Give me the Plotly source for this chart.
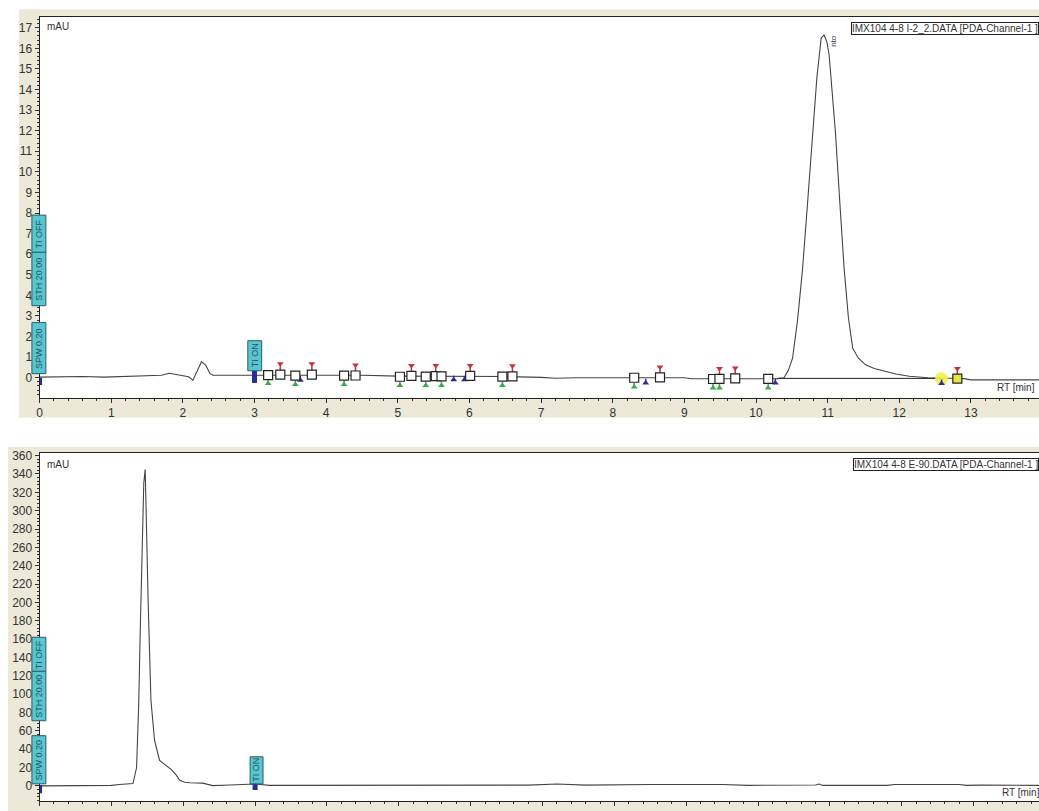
import plotly.graph_objects as go

# ---------------- data: upper chromatogram (IMX104 4-8 I-2_2) ----------------
top_rt = [0, 0.3, 0.6, 0.9, 1.2, 1.5, 1.7, 1.81, 1.95, 2.08, 2.14, 2.2, 2.26, 2.32, 2.38,
          2.42, 2.6, 3.0, 3.5, 4.0, 4.5, 5.0, 5.5, 6.0, 6.5, 7.0, 7.2, 7.5, 8.0, 8.5, 9.0,
          9.1, 9.5, 10.0, 10.3, 10.39, 10.45, 10.51, 10.58, 10.65, 10.72, 10.79, 10.85,
          10.91, 10.95, 10.99, 11.02, 11.06, 11.11, 11.17, 11.23, 11.29, 11.35, 11.43,
          11.53, 11.65, 11.81, 11.95, 12.14, 12.4, 12.7, 12.9, 13.0, 13.5, 13.95]
top_mau = [0.03, 0.04, 0.06, 0.03, 0.06, 0.07, 0.12, 0.22, 0.15, 0.05, -0.12, 0.3, 0.78, 0.6, 0.2,
           0.12, 0.12, 0.14, 0.15, 0.15, 0.12, 0.08, 0.08, 0.09, 0.06, 0.02, -0.02, 0.0, 0.0, 0.0, 0.0,
           -0.05, -0.06, -0.05, -0.04, 0.0, 0.35, 0.95, 2.8, 5.3, 8.5, 11.85, 14.6,
           16.5, 16.65, 16.3, 15.7, 14.0, 11.85, 8.5, 5.3, 2.9, 1.43, 0.95,
           0.63, 0.45, 0.3, 0.18, 0.07, 0.0, -0.02, -0.04, -0.1, -0.1, -0.1]
top_base_rt = [10.3, 12.6]
top_base_mau = [-0.03, -0.03]

# peak-boundary squares
sq_rt = [3.19, 3.36, 3.57, 3.80, 4.25, 4.41, 5.03, 5.19, 5.39, 5.53, 5.61, 6.01, 6.46, 6.60,
         8.30, 8.66, 9.40, 9.49, 9.71, 10.17]
sq_mau = [0.13, 0.15, 0.1, 0.15, 0.1, 0.11, 0.05, 0.09, 0.06, 0.08, 0.07, 0.09, 0.06, 0.07,
          0.0, 0.02, -0.06, -0.05, -0.03, -0.05]
sq_hl_rt = [12.81]
sq_hl_mau = [-0.04]
# red (start) pins, green (end) pins, blue triangles
red_rt = [3.36, 3.80, 4.41, 5.19, 5.53, 6.01, 6.60, 8.66, 9.49, 9.71, 12.81]
red_mau = [0.68, 0.68, 0.62, 0.6, 0.6, 0.6, 0.58, 0.52, 0.45, 0.47, 0.45]
green_rt = [3.19, 3.57, 4.25, 5.03, 5.39, 5.61, 6.46, 8.30, 9.40, 9.49, 10.17]
green_mau = [-0.28, -0.33, -0.33, -0.38, -0.38, -0.38, -0.38, -0.45, -0.5, -0.5, -0.5]
blue_rt = [3.64, 5.78, 5.93, 8.46, 10.27, 12.59]
blue_mau = [-0.12, -0.1, -0.1, -0.25, -0.25, -0.28]
yellow_rt = [12.59]
yellow_mau = [-0.05]
top_event_rt = [0.0, 3.0]
top_event_hi = [0.0, 0.35]
top_event_lo = [-0.35, -0.25]

# ---------------- data: lower chromatogram (IMX104 4-8 E-90) ----------------
bot_rt = [0, 0.5, 1.0, 1.11, 1.25, 1.3, 1.35, 1.38, 1.40, 1.43, 1.45, 1.47, 1.49, 1.51,
          1.55, 1.6, 1.67, 1.76, 1.83, 1.9, 1.95, 2.02, 2.09, 2.27, 2.35, 2.41, 2.65, 3.0,
          3.2, 4.0, 5.0, 6.0, 6.8, 7.2, 7.6, 8.5, 9.5, 9.86, 10.5, 10.8, 10.85, 10.9,
          11.8, 11.9, 12.8, 12.9, 13.1, 13.95]
bot_mau = [0, 0, 0.5, 1.5, 2, 2.5, 20, 90, 166, 261, 330, 345, 261, 203,
           93, 49.5, 27.7, 22, 18, 12, 6, 4, 3.3, 3, 1.5, 0.3, 1, 2,
           0.5, 0.5, 0.5, 0.5, 0.8, 2, 0.8, 1.5, 1.5, 0.5, 0.3, 1, 2, 0.5,
           0.5, 1.5, 1.5, 0.5, 0.8, 0.5]
bot_event_rt = [0.0, 3.0]
bot_event_hi = [1.0, 3.0]
bot_event_lo = [-8.0, -4.5]

top_yticks = list(range(0, 18))
bot_yticks = list(range(0, 361, 20))
x_ticks = list(range(0, 15))

titles = ["IMX104 4-8 I-2_2.DATA [PDA-Channel-1 ]", "IMX104 4-8 E-90.DATA [PDA-Channel-1 ]"]

# ---------------- styling constants ----------------
W, H = 1039, 823
REF_H = 811
SY, OY = 0.985, 2.4          # vertical compensation of the photographed page
BEIGE = "#ECE9D8"
CYAN = "#58C6D0"
TRACE = "#444444"
FONT = "Liberation Sans, Arial, sans-serif"


def px(v):
    return v / W


def py(v):
    return 1 - ((v - OY) / SY) / H


def event_xy(rts, his, los):
    xs, ys = [], []
    for r, h, l in zip(rts, his, los):
        xs += [r, r, None]
        ys += [h, l, None]
    return xs, ys


fig = go.Figure()

# upper panel traces
fig.add_trace(go.Scatter(x=top_rt, y=top_mau, mode="lines", line=dict(color=TRACE, width=1.1),
                         xaxis="x", yaxis="y", showlegend=False, hoverinfo="skip"))
fig.add_trace(go.Scatter(x=top_base_rt, y=top_base_mau, mode="lines", line=dict(color="#222", width=1),
                         xaxis="x", yaxis="y", showlegend=False, hoverinfo="skip"))
ex, ey = event_xy(top_event_rt, top_event_hi, top_event_lo)
fig.add_trace(go.Scatter(x=ex, y=ey, mode="lines", line=dict(color="#2b2b9c", width=5),
                         xaxis="x", yaxis="y", showlegend=False, hoverinfo="skip"))
fig.add_trace(go.Scatter(x=yellow_rt, y=yellow_mau, mode="markers",
                         marker=dict(symbol="circle", size=13, color="#eef04a", opacity=0.9),
                         xaxis="x", yaxis="y", showlegend=False, hoverinfo="skip"))
fig.add_trace(go.Scatter(x=red_rt, y=red_mau, mode="markers",
                         marker=dict(symbol="triangle-down", size=6, color="#c8333a"),
                         error_y=dict(type="constant", symmetric=False, value=0, valueminus=0.35,
                                      width=0, thickness=1.5, color="#c8333a"),
                         xaxis="x", yaxis="y", showlegend=False, hoverinfo="skip"))
fig.add_trace(go.Scatter(x=green_rt, y=green_mau, mode="markers",
                         marker=dict(symbol="triangle-up", size=6, color="#3caa48"),
                         error_y=dict(type="constant", symmetric=False, value=0.2, valueminus=0,
                                      width=0, thickness=1.5, color="#3caa48"),
                         xaxis="x", yaxis="y", showlegend=False, hoverinfo="skip"))
fig.add_trace(go.Scatter(x=blue_rt, y=blue_mau, mode="markers",
                         marker=dict(symbol="triangle-up", size=6, color="#2b2b9c"),
                         error_y=dict(type="constant", symmetric=False, value=0.2, valueminus=0,
                                      width=0, thickness=1.5, color="#2b2b9c"),
                         xaxis="x", yaxis="y", showlegend=False, hoverinfo="skip"))
fig.add_trace(go.Scatter(x=sq_rt, y=sq_mau, mode="markers",
                         marker=dict(symbol="square", size=9, color="white",
                                     line=dict(color="#222", width=1.2)),
                         xaxis="x", yaxis="y", showlegend=False, hoverinfo="skip"))
fig.add_trace(go.Scatter(x=sq_hl_rt, y=sq_hl_mau, mode="markers",
                         marker=dict(symbol="square", size=9, color="#e6e640",
                                     line=dict(color="#222", width=1.2)),
                         xaxis="x", yaxis="y", showlegend=False, hoverinfo="skip"))

# lower panel traces
fig.add_trace(go.Scatter(x=bot_rt, y=bot_mau, mode="lines", line=dict(color=TRACE, width=1.1),
                         xaxis="x2", yaxis="y2", showlegend=False, hoverinfo="skip"))
ex, ey = event_xy(bot_event_rt, bot_event_hi, bot_event_lo)
fig.add_trace(go.Scatter(x=ex, y=ey, mode="lines", line=dict(color="#2b2b9c", width=5),
                         xaxis="x2", yaxis="y2", showlegend=False, hoverinfo="skip"))

axis_common = dict(showgrid=False, zeroline=False, showline=True, linecolor="#222", linewidth=1,
                   ticks="outside", ticklen=4, tickcolor="#333",
                   tickfont=dict(family=FONT, size=12, color="#333"))

fig.update_layout(
    width=W, height=H, autosize=False,
    margin=dict(l=0, r=0, t=0, b=0),
    paper_bgcolor="white", plot_bgcolor="white",
    font=dict(family=FONT, color="#333"),
    xaxis=dict(domain=[px(36.7), 1], range=[0, 13.95], anchor="y", tickvals=x_ticks,
               mirror=True, minor=dict(dtick=0.2, ticks="outside", ticklen=2, tickcolor="#333"),
               **axis_common),
    yaxis=dict(domain=[py(395), py(15)], range=[-0.97, 17.54], anchor="x", tickvals=top_yticks,
               minor=dict(dtick=0.2, ticks="outside", ticklen=2, tickcolor="#333"),
               **axis_common),
    xaxis2=dict(domain=[px(36.7), 1], range=[0, 13.91], anchor="y2", tickvals=x_ticks,
                mirror=True, minor=dict(dtick=0.2, ticks="outside", ticklen=2, tickcolor="#333"),
                **axis_common),
    yaxis2=dict(domain=[py(797), py(450)], range=[-16.4, 363], anchor="x2", tickvals=bot_yticks,
                minor=dict(dtick=4, ticks="outside", ticklen=2, tickcolor="#333"),
                **axis_common),
)

shapes = []
# beige frame strips
for (x0, x1, y0, y1) in [(16, 36.7, 8, 415), (16, W, 8, 15), (36.7, W, 395, 415),
                         (5, 36.7, 444, REF_H + 12), (5, W, 444, 450), (36.7, W, 797, REF_H + 12)]:
    shapes.append(dict(type="rect", xref="paper", yref="paper", x0=px(x0), x1=px(x1),
                       y0=py(y1), y1=py(y0), fillcolor=BEIGE, line=dict(width=0), layer="below"))

annotations = []


def cyan_box(xref, yref, x0, x1, y0, y1):
    shapes.append(dict(type="rect", xref=xref, yref=yref, x0=x0, x1=x1, y0=y0, y1=y1,
                       fillcolor=CYAN, line=dict(color="#2c5f68", width=1), layer="above"))


def vlabel(xref, yref, x, y, text):
    annotations.append(dict(xref=xref, yref=yref, x=x, y=y, text=text, textangle=-90,
                            showarrow=False, font=dict(family=FONT, size=9, color="#2a5566"),
                            xanchor="center", yanchor="middle"))


bx0, bx1 = px(29), px(43)
bxc = (bx0 + bx1) / 2
# upper panel method boxes
cyan_box("paper", "y", bx0, bx1, 0.2, 2.68)
vlabel("paper", "y", bxc, 1.44, "SPW 0.20")
cyan_box("paper", "y", bx0, bx1, 3.5, 6.1)
vlabel("paper", "y", bxc, 4.8, "STH 20.00")
cyan_box("paper", "y", bx0, bx1, 6.1, 7.9)
vlabel("paper", "y", bxc, 7.0, "TI OFF")
cyan_box("x", "y", 2.906, 3.10, 0.34, 1.8)
vlabel("x", "y", 3.0, 1.07, "TI ON")
# lower panel method boxes
cyan_box("paper", "y2", bx0, bx1, 2.2, 54.7)
vlabel("paper", "y2", bxc, 28.5, "SPW 0.20")
cyan_box("paper", "y2", bx0, bx1, 71, 125)
vlabel("paper", "y2", bxc, 98, "STH 20.00")
cyan_box("paper", "y2", bx0, bx1, 125, 162)
vlabel("paper", "y2", bxc, 143.5, "TI OFF")
cyan_box("x2", "y2", 2.93, 3.11, 2.2, 31.7)
vlabel("x2", "y2", 3.02, 17, "TI ON")

# axis captions
for xr, yr, ymau in [("x", "y", 17.05), ("x2", "y2", 350)]:
    annotations.append(dict(xref=xr, yref=yr, x=0.08, y=ymau, text="mAU", showarrow=False,
                            xanchor="left", yanchor="middle",
                            font=dict(family=FONT, size=10, color="#333")))
annotations.append(dict(xref="paper", yref="y", x=0.998, y=-0.45, text="RT [min]", showarrow=False,
                        xanchor="right", yanchor="middle", font=dict(family=FONT, size=10, color="#333")))
annotations.append(dict(xref="paper", yref="y2", x=1.003, y=-7, text="RT [min]", showarrow=False,
                        xanchor="right", yanchor="middle", font=dict(family=FONT, size=10, color="#333")))

# data file titles
for t, ytop in zip(titles, [py(20), py(455)]):
    annotations.append(dict(xref="paper", yref="paper", x=1.0, y=ytop, text=t, showarrow=False,
                            xanchor="right", yanchor="top", bgcolor="white", bordercolor="#222",
                            borderwidth=1, borderpad=0,
                            font=dict(family=FONT, size=10, color="#333")))

# peak name label
annotations.append(dict(xref="x", yref="y", x=11.07, y=16.35, text="nto", textangle=-90,
                        showarrow=False, xanchor="center", yanchor="middle",
                        font=dict(family=FONT, size=8, color="#333")))

fig.update_layout(shapes=shapes, annotations=annotations)
fig.write_html("out.html", config={"displayModeBar": False},
               post_script="document.body.style.margin='0';document.body.style.overflow='hidden';")
